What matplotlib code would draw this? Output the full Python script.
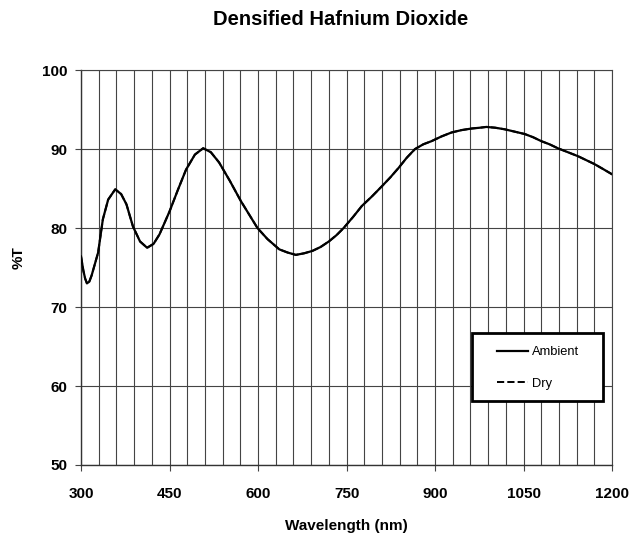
import matplotlib
matplotlib.use('Agg')
import matplotlib.pyplot as plt
from matplotlib.patches import Rectangle
from matplotlib.ticker import MultipleLocator

plt.rcParams['font.family'] = ['Liberation Sans', 'DejaVu Sans']

# wavelength (nm) and transmission (%T)
wavelength = [300, 304, 307, 310, 314, 318, 329, 337, 346, 358, 368, 377, 388,
              400, 412, 423, 433, 450, 464, 478, 493, 507, 520, 534, 552, 571,
              599, 616, 636, 650, 664, 678, 692, 706, 720, 733, 745, 761, 776,
              793, 810, 824, 838, 852, 866, 880, 894, 911, 928, 945, 962, 976,
              987, 1002, 1018, 1035, 1052, 1066, 1080, 1094, 1108, 1125, 1142,
              1156, 1170, 1184, 1200]
ambient = [76.4, 74.6, 73.6, 73.0, 73.2, 74.0, 76.9, 81.1, 83.6, 84.9, 84.3,
           83.0, 80.2, 78.3, 77.5, 78.0, 79.2, 82.1, 84.8, 87.4, 89.3, 90.1,
           89.6, 88.3, 86.0, 83.4, 80.0, 78.6, 77.3, 76.9, 76.6, 76.8, 77.1,
           77.6, 78.3, 79.1, 80.0, 81.4, 82.8, 84.0, 85.3, 86.4, 87.6, 88.9,
           90.0, 90.6, 91.0, 91.6, 92.1, 92.4, 92.6, 92.7, 92.8, 92.7, 92.5,
           92.2, 91.9, 91.5, 91.0, 90.6, 90.1, 89.6, 89.1, 88.6, 88.1, 87.5,
           86.8]
dry = ambient  # the dry curve lies on top of the ambient one

fig = plt.figure(figsize=(6.3, 5.41), dpi=100, facecolor='w')
ax = fig.add_axes([0.1286, 0.1405, 0.8430, 0.730])

ax.plot(wavelength, dry, color='black', lw=1.4, ls='--', label='Dry', zorder=3)
ax.plot(wavelength, ambient, color='black', lw=1.6, label='Ambient', zorder=4)

ax.set_xlim(300, 1200)
ax.set_ylim(50, 100)
ax.xaxis.set_major_locator(MultipleLocator(150))
ax.xaxis.set_minor_locator(MultipleLocator(30))
ax.yaxis.set_major_locator(MultipleLocator(10))
ax.grid(which='both', axis='x', color='#444444', lw=0.8)
ax.grid(which='major', axis='y', color='#444444', lw=0.8)
ax.set_axisbelow(True)
ax.tick_params(which='minor', length=0)
ax.tick_params(which='major', length=4, width=0.8, color='#444444',
               labelsize=11)
ax.tick_params(axis='x', pad=12)
ax.tick_params(axis='y', pad=6)
for lab in ax.get_xticklabels() + ax.get_yticklabels():
    lab.set_fontweight('bold')
for side in ['top', 'right']:
    ax.spines[side].set_color('#444444')
    ax.spines[side].set_linewidth(0.8)
for side in ['left', 'bottom']:
    ax.spines[side].set_color('#333333')
    ax.spines[side].set_linewidth(1.0)

ax.set_xlabel('Wavelength (nm)', fontsize=11, fontweight='bold', labelpad=13)
ax.set_ylabel('%T', fontsize=11, fontweight='bold')
ax.yaxis.set_label_coords(-0.105, 0.525)
fig.suptitle('Densified Hafnium Dioxide', fontsize=14.5, fontweight='bold',
             x=0.54, y=0.982)

# legend box
ax.add_patch(Rectangle((0.737, 0.162), 0.245, 0.172, transform=ax.transAxes,
                       facecolor='white', edgecolor='black', lw=2, zorder=5))
handles, labels = ax.get_legend_handles_labels()
leg = ax.legend(handles[::-1], labels[::-1], loc='upper left',
                bbox_to_anchor=(0.784, 0.301), frameon=False,
                fontsize=9.3, handlelength=2.4, handletextpad=0.25,
                labelspacing=1.5, borderpad=0, borderaxespad=0)
leg.set_zorder(6)

fig.savefig('out.png', dpi=100)
